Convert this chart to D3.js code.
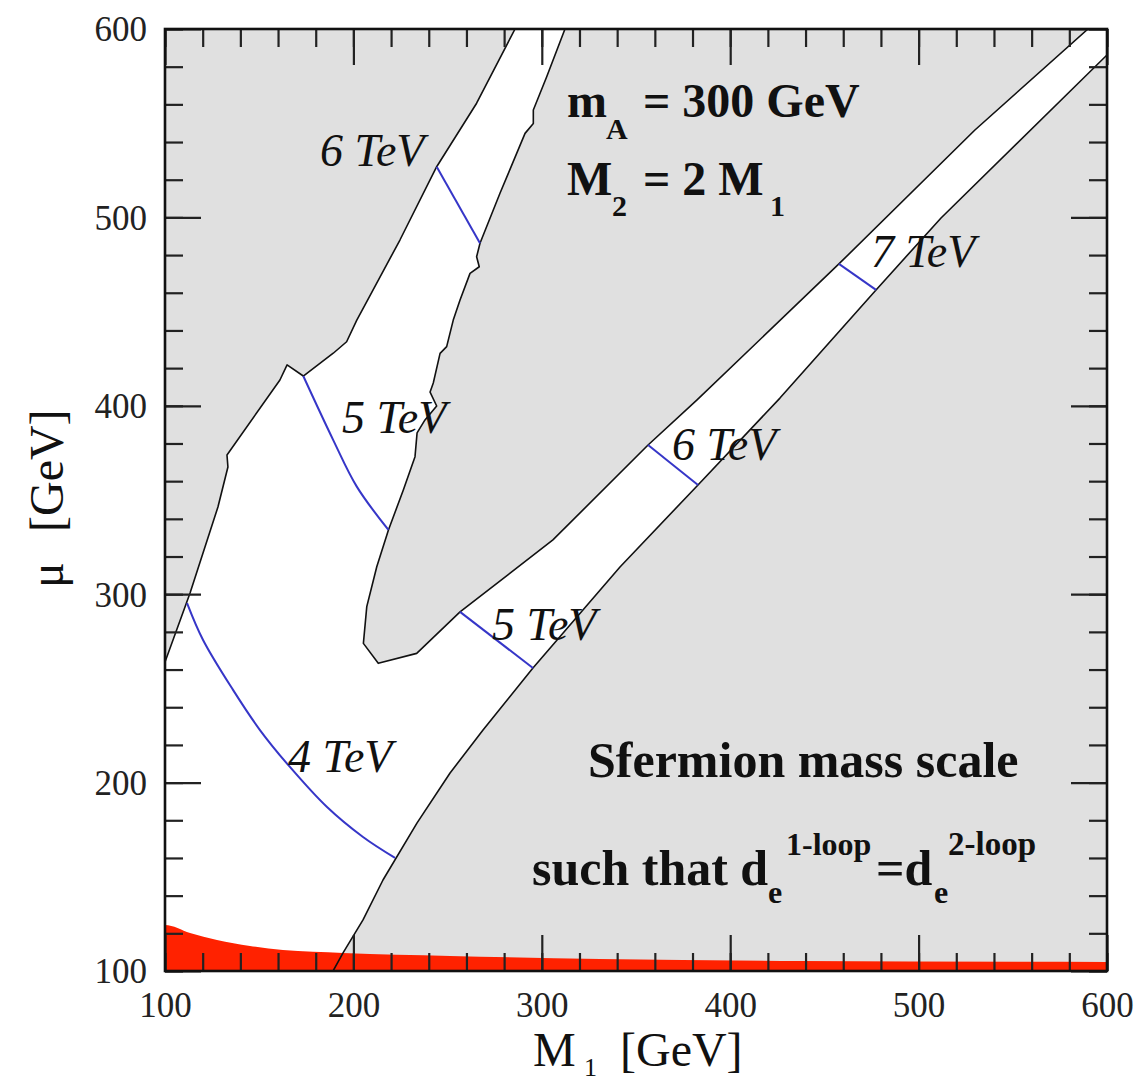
<!DOCTYPE html>
<html><head><meta charset="utf-8">
<script src="https://cdn.jsdelivr.net/npm/d3@7"></script>
<style>body{margin:0;background:#fff} svg{display:block}</style>
</head><body>
<svg id="chart" width="1135" height="1082"></svg>
<script>
// ---- data (M1 [GeV], mu [GeV]) ----
const xDomain = [100, 600];
const yDomain = [100, 600];
const xTicks = [100, 200, 300, 400, 500, 600];
const yTicks = [100, 200, 300, 400, 500, 600];
const minorStep = 20;

// boundary of the excluded (grey) region in the upper left
const upperLeftBoundary = [[100,264.0],[113.3,300.6],[128.1,346.3],[133.4,367.5],[132.9,373.9],[161.0,413.7],[164.8,421.7],[173.4,415.8],[189.3,427.9],[196.4,434.0],[201.8,445.5],[207.1,455.3],[224.7,488.0],[244.2,526.9],[265.4,560.6],[285.8,600]];

// boundary of the grey tongue in the middle (top, down to tip, back up to top right)
const tongueBoundary = [[312.3,600],[302.6,574.7],[295.5,557.0],[295.5,549.9],[291.1,544.6],[277.8,512.8],[267.2,486.3],[265.4,479.1],[266.8,473.8],[261.9,470.3],[256.6,456.2],[253.0,445.5],[249.5,431.4],[246.0,427.8],[242.4,412.1],[240.7,407.3],[244.2,399.9],[238.0,392.5],[233.8,385.6],[232.7,373.0],[226.5,355.3],[218.6,334.1],[212.4,314.6],[207.1,293.4],[205.3,273.9],[213.2,263.3],[233.6,268.6],[256.6,290.6],[305.9,328.8],[356.4,379.2],[382.4,403.1],[457.7,475.3],[529.9,546.4],[589.9,600]];

// boundary of the grey region in the lower right
const lowerRightBoundary = [[600,586.2],[511.9,499.7],[477.4,461.5],[426.4,404.1],[382.9,358.0],[341.5,314.4],[295.3,260.8],[268.8,227.9],[251.3,205.1],[233.8,178.6],[215.7,148.3],[205.1,127.1],[194.5,109.6],[189.2,100]];

// upper edge of the red band at the bottom
const redBandTop = [[100,124.4],[113.3,120.2],[127.6,116.5],[145.1,113.3],[162.6,111.1],[194.5,109.6],[251.3,108.0],[330.9,106.4],[437.0,105.3],[600,104.8]];

// blue contours of constant sfermion mass scale
const contour4TeV = [[111.7,295.3],[120.2,275.7],[136.1,249.2],[150.4,227.9],[166.3,208.3],[186.0,187.0],[205.1,171.1],[222.1,160.0]];
const contour5TeVLeft = [[173.4,415.8],[189.3,381.8],[201.8,357.1],[218.6,334.1]];
const contour6TeVLeft = [[244.2,526.9],[267.2,486.3]];
const contour5TeVBand = [[256.6,290.6],[295.3,260.8]];
const contour6TeVBand = [[356.4,379.2],[382.9,358.0]];
const contour7TeVBand = [[457.7,475.3],[477.4,461.5]];

const labelTexts = ["6 TeV","5 TeV","4 TeV","5 TeV","6 TeV","7 TeV"];
const labelM1 = [182.3, 193.9, 165.3, 273.6, 369.1, 474.7];
const labelMu = [527.3, 385.6, 205.6, 275.7, 371.2, 473.7];

// ---- drawing ----
const svg = d3.select("#chart");
const serif = "'Liberation Serif','Times New Roman',Times,serif";
const x = d3.scaleLinear().domain(xDomain).range([165, 1107]);
const y = d3.scaleLinear().domain(yDomain).range([971, 29]);

svg.append("defs").append("clipPath").attr("id","clip")
  .append("rect").attr("x",165).attr("y",29).attr("width",942).attr("height",942);

const plot = svg.append("g").attr("clip-path","url(#clip)");
const line = d3.line().x(d=>x(d[0])).y(d=>y(d[1]));
const smooth = d3.line().x(d=>x(d[0])).y(d=>y(d[1])).curve(d3.curveCatmullRom);
const mono = d3.line().x(d=>x(d[0])).y(d=>y(d[1])).curve(d3.curveMonotoneX);

const GREY = "#e0e0e0";
plot.append("rect").attr("x",165).attr("y",29).attr("width",942).attr("height",942).attr("fill","#fff");

// grey regions
plot.append("path").attr("fill",GREY)
  .attr("d", line([[100,600], ...upperLeftBoundary]) + "Z");
plot.append("path").attr("fill",GREY)
  .attr("d", line(tongueBoundary) + "Z");
plot.append("path").attr("fill",GREY)
  .attr("d", line([...lowerRightBoundary, [600,100]]) + "Z");

// red band
plot.append("path").attr("fill","#ff2200")
  .attr("d", mono([[100,100], ...redBandTop]) + "L" + x(600) + "," + y(100) + "Z");

// black boundaries
[upperLeftBoundary, tongueBoundary, lowerRightBoundary].forEach(b => {
  plot.append("path").attr("d", line(b)).attr("fill","none")
    .attr("stroke","#111").attr("stroke-width",1.6).attr("stroke-linejoin","round");
});

// blue contours
[contour4TeV, contour5TeVLeft, contour6TeVLeft, contour5TeVBand, contour6TeVBand, contour7TeVBand].forEach(c => {
  plot.append("path").attr("d", smooth(c)).attr("fill","none")
    .attr("stroke","#3636c8").attr("stroke-width",2);
});

// contour labels
labelTexts.forEach((t,i) => {
  svg.append("text").attr("x", x(labelM1[i])).attr("y", y(labelMu[i]))
    .attr("font-family", serif).attr("font-style","italic").attr("font-size",46)
    .attr("fill","#111").text(t);
});

// ticks (inward on all four sides)
const minorX = d3.range(xDomain[0], xDomain[1]+1, minorStep);
const minorY = d3.range(yDomain[0], yDomain[1]+1, minorStep);
function axisGroup(gen, tr){
  const g = svg.append("g").attr("transform", tr).call(gen);
  g.select(".domain").remove();
  g.selectAll("line").attr("stroke","#222").attr("stroke-width",2.2);
  return g;
}
axisGroup(d3.axisBottom(x).tickValues(minorX).tickSize(-18).tickFormat(""), "translate(0,971)");
axisGroup(d3.axisTop(x).tickValues(minorX).tickSize(-18).tickFormat(""), "translate(0,29)");
axisGroup(d3.axisLeft(y).tickValues(minorY).tickSize(-18).tickFormat(""), "translate(165,0)");
axisGroup(d3.axisRight(y).tickValues(minorY).tickSize(-18).tickFormat(""), "translate(1107,0)");
axisGroup(d3.axisTop(x).tickValues(xTicks).tickSize(-36).tickFormat(""), "translate(0,29)");
axisGroup(d3.axisRight(y).tickValues(yTicks).tickSize(-36).tickFormat(""), "translate(1107,0)");

const bx = axisGroup(d3.axisBottom(x).tickValues(xTicks).tickSize(-36).tickFormat(d3.format("d")), "translate(0,971)");
bx.selectAll("text").attr("y", 46).attr("dy", null)
  .attr("font-family", serif).attr("font-size", 35).attr("fill","#222");
const ly = axisGroup(d3.axisLeft(y).tickValues(yTicks).tickSize(-36).tickFormat(d3.format("d")), "translate(165,0)");
ly.selectAll("text").attr("x", -18).attr("dy", "0.34em")
  .attr("font-family", serif).attr("font-size", 35).attr("fill","#222");

// frame
svg.append("rect").attr("x",165).attr("y",29).attr("width",942).attr("height",942)
  .attr("fill","none").attr("stroke","#111").attr("stroke-width",2.6);

// axis titles
const xt = svg.append("text").attr("font-family", serif).attr("font-size",48).attr("fill","#111");
xt.append("tspan").attr("x",533).attr("y",1066).text("M");
xt.append("tspan").attr("x",584).attr("y",1076).attr("font-size",26).text("1");
xt.append("tspan").attr("x",620).attr("y",1066).text("[GeV]");

const yt = svg.append("g").attr("transform","translate(63,588) rotate(-90)");
yt.append("text").attr("x",0).attr("y",0).attr("font-family",serif).attr("font-size",48).attr("fill","#111").text("μ");
yt.append("text").attr("x",56).attr("y",0).attr("font-family",serif).attr("font-size",48).attr("fill","#111").text("[GeV]");

// annotations
function bold(xp, yp, size, str){
  return svg.append("text").attr("x",xp).attr("y",yp).attr("font-family",serif)
    .attr("font-weight","bold").attr("font-size",size).attr("fill","#111").text(str);
}
bold(567,117,48,"m"); bold(606,139,30,"A"); bold(643,117,48,"= 300 GeV");
bold(567,195,48,"M"); bold(612,216,30,"2"); bold(643,195,48,"= 2 M"); bold(770,216,30,"1");
bold(588,777,50,"Sfermion mass scale");
bold(532,885,50,"such that d"); bold(768,903,32,"e"); bold(786,855,32,"1-loop");
bold(876,885,50,"=d"); bold(934,903,32,"e"); bold(948,855,33,"2-loop");
</script>
</body></html>
